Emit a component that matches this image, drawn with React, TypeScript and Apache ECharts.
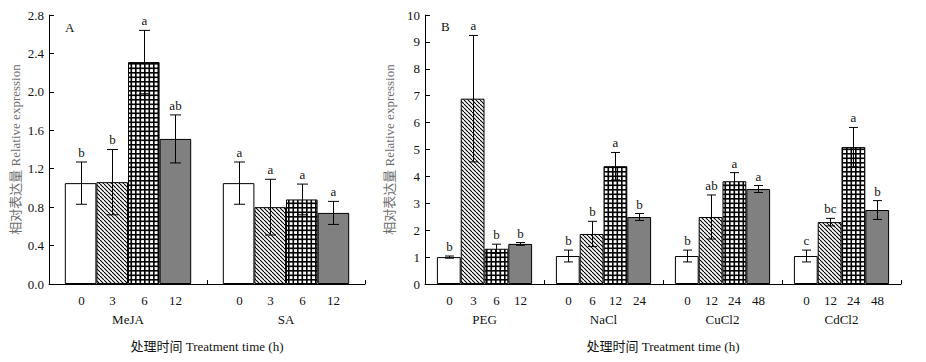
import React, { useEffect, useRef } from 'react';
import * as echarts from 'echarts';

// ---------- Data ----------
const groupsA = ['MeJA', 'SA'];
const timesA = [
  ['0', '3', '6', '12'],
  ['0', '3', '6', '12'],
];
const meansA = [
  [1.05, 1.06, 2.31, 1.51],
  [1.05, 0.8, 0.88, 0.74],
];
const sdA = [
  [0.22, 0.34, 0.33, 0.25],
  [0.22, 0.29, 0.16, 0.12],
];
const lettersA = [
  ['b', 'b', 'a', 'ab'],
  ['a', 'a', 'a', 'a'],
];

const groupsB = ['PEG', 'NaCl', 'CuCl2', 'CdCl2'];
const timesB = [
  ['0', '3', '6', '12'],
  ['0', '6', '12', '24'],
  ['0', '12', '24', '48'],
  ['0', '12', '24', '48'],
];
const meansB = [
  [1.0, 6.89, 1.31, 1.49],
  [1.04, 1.86, 4.38, 2.49],
  [1.04, 2.49, 3.82, 3.53],
  [1.04, 2.3, 5.09, 2.75],
];
const sdB = [
  [0.04, 2.35, 0.17, 0.05],
  [0.22, 0.47, 0.51, 0.13],
  [0.22, 0.82, 0.32, 0.13],
  [0.22, 0.14, 0.73, 0.35],
];
const lettersB = [
  ['b', 'a', 'b', 'b'],
  ['b', 'b', 'a', 'b'],
  ['b', 'ab', 'a', 'a'],
  ['c', 'bc', 'a', 'b'],
];

const yAxisA = { min: 0, max: 2.8, interval: 0.4, decimals: 1 };
const yAxisB = { min: 0, max: 10, interval: 1, decimals: 0 };

const xTitle = '处理时间 Treatment time (h)';
const yTitle = '相对表达量 Relative expression';

// ---------- Styles ----------
const FONT_FAMILY = "'Liberation Serif', 'Times New Roman', 'Noto Sans CJK SC', serif";
const FONT = `13px ${FONT_FAMILY}`;
const TEXT_COLOR = '#111';

function makeHatch(): string {
  const s = 4;
  const c = document.createElement('canvas');
  c.width = s;
  c.height = s;
  const ctx = c.getContext('2d')!;
  ctx.fillStyle = '#fff';
  ctx.fillRect(0, 0, s, s);
  ctx.strokeStyle = '#000';
  ctx.lineWidth = 1.1;
  for (const off of [-s, 0, s]) {
    ctx.beginPath();
    ctx.moveTo(off, 0);
    ctx.lineTo(off + s, s);
    ctx.stroke();
  }
  return c.toDataURL();
}

function makeGrid(): string {
  const s = 9;
  const c = document.createElement('canvas');
  c.width = s;
  c.height = s;
  const ctx = c.getContext('2d')!;
  ctx.fillStyle = '#fff';
  ctx.fillRect(0, 0, s, s);
  ctx.fillStyle = '#000';
  ctx.fillRect(0, 0, 1.6, s);
  ctx.fillRect(4.5, 0, 1.6, s);
  ctx.fillRect(0, 0, s, 1.6);
  ctx.fillRect(0, 4.5, s, 1.6);
  return c.toDataURL();
}

export default function App() {
  const ref = useRef<HTMLDivElement>(null);

  useEffect(() => {
    document.body.style.margin = '0';
    if (!ref.current) return;
    const chart = echarts.init(ref.current, undefined, { renderer: 'svg' });

    const hatch = { image: makeHatch(), repeat: 'repeat', imageWidth: 4, imageHeight: 4 };
    const grid = { image: makeGrid(), repeat: 'repeat', imageWidth: 9, imageHeight: 9 };
    const fills: any[] = ['#ffffff', hatch, grid, '#808080'];

    const barSeries = (axis: number, means: number[][]) =>
      [0, 1, 2, 3].map((k) => ({
        type: 'bar',
        xAxisIndex: axis,
        yAxisIndex: axis,
        barGap: '0%',
        barCategoryGap: '20%',
        silent: true,
        itemStyle: { color: fills[k], borderColor: '#000', borderWidth: 1 },
        data: means.map((arr) => arr[k]),
      }));

    const errSeries = (
      axis: number,
      means: number[][],
      sds: number[][],
      letters: string[][],
      times: string[][],
      capW: number
    ) => {
      const data: number[][] = [];
      means.forEach((arr, g) =>
        arr.forEach((m, k) => data.push([g, k, m - sds[g][k], m + sds[g][k]]))
      );
      return {
        type: 'custom',
        xAxisIndex: axis,
        yAxisIndex: axis,
        z: 5,
        silent: true,
        clip: false,
        encode: { x: 0, y: [2, 3] },
        data,
        renderItem: (params: any, api: any) => {
          const g = api.value(0);
          const k = api.value(1);
          const lo = api.value(2);
          const hi = api.value(3);
          const bw = api.size([1, 0])[0];
          const cx = Math.round(api.coord([g, 0])[0] + bw * (0.2 * k - 0.3)) + 0.5;
          const yLo = api.coord([g, lo])[1];
          const yHi = api.coord([g, hi])[1];
          const y0 = api.coord([g, 0])[1];
          const h = capW / 2;
          const ls = { stroke: '#000', lineWidth: 1 };
          return {
            type: 'group',
            children: [
              { type: 'line', shape: { x1: cx, y1: yLo, x2: cx, y2: yHi }, style: ls },
              { type: 'line', shape: { x1: cx - h, y1: yLo, x2: cx + h, y2: yLo }, style: ls },
              { type: 'line', shape: { x1: cx - h, y1: yHi, x2: cx + h, y2: yHi }, style: ls },
              {
                type: 'text',
                style: {
                  text: letters[g][k],
                  x: cx,
                  y: yHi - 3,
                  align: 'center',
                  verticalAlign: 'bottom',
                  font: FONT,
                  fill: TEXT_COLOR,
                },
              },
              {
                type: 'text',
                style: {
                  text: times[g][k],
                  x: cx,
                  y: y0 + 16,
                  align: 'center',
                  verticalAlign: 'middle',
                  font: FONT,
                  fill: TEXT_COLOR,
                },
              },
            ],
          };
        },
      };
    };

    const xAxis = (idx: number, cats: string[]) => ({
      type: 'category',
      gridIndex: idx,
      data: cats,
      axisLine: { lineStyle: { color: '#000', width: 1 } },
      axisTick: { show: true, inside: true, length: 4, alignWithLabel: false, lineStyle: { color: '#000' } },
      axisLabel: { margin: 29, fontFamily: FONT_FAMILY, fontSize: 13, color: TEXT_COLOR },
      name: xTitle,
      nameLocation: 'middle',
      nameGap: 56,
      nameTextStyle: { fontFamily: FONT_FAMILY, fontSize: 13, color: TEXT_COLOR },
      splitLine: { show: false },
    });

    const yAxis = (idx: number, cfg: typeof yAxisA) => ({
      type: 'value',
      gridIndex: idx,
      min: cfg.min,
      max: cfg.max,
      interval: cfg.interval,
      axisLine: { show: true, lineStyle: { color: '#000', width: 1 } },
      axisTick: { show: true, inside: true, length: 5, lineStyle: { color: '#000' } },
      axisLabel: {
        margin: 5,
        fontFamily: FONT_FAMILY,
        fontSize: 13,
        color: TEXT_COLOR,
        formatter: (v: number) => v.toFixed(cfg.decimals),
      },
      splitLine: { show: false },
      name: yTitle,
      nameLocation: 'middle',
      nameGap: 27,
      nameRotate: 90,
      nameTextStyle: { fontFamily: FONT_FAMILY, fontSize: 13, color: '#6e6e6e' },
    });

    chart.setOption({
      animation: false,
      grid: [
        { left: 49, top: 15, width: 316, height: 269 },
        { left: 425, top: 15, width: 476, height: 269 },
      ],
      xAxis: [xAxis(0, groupsA), xAxis(1, groupsB)],
      yAxis: [yAxis(0, yAxisA), yAxis(1, yAxisB)],
      graphic: [
        {
          type: 'text',
          left: 65,
          top: 21,
          style: { text: 'A', font: FONT, fill: TEXT_COLOR },
        },
        {
          type: 'text',
          left: 441,
          top: 20,
          style: { text: 'B', font: FONT, fill: TEXT_COLOR },
        },
      ],
      series: [
        ...barSeries(0, meansA),
        errSeries(0, meansA, sdA, lettersA, timesA, 11),
        ...barSeries(1, meansB),
        errSeries(1, meansB, sdB, lettersB, timesB, 9),
      ],
    } as any);

    return () => {
      chart.dispose();
    };
  }, []);

  return <div ref={ref} style={{ width: 926, height: 362 }} />;
}
